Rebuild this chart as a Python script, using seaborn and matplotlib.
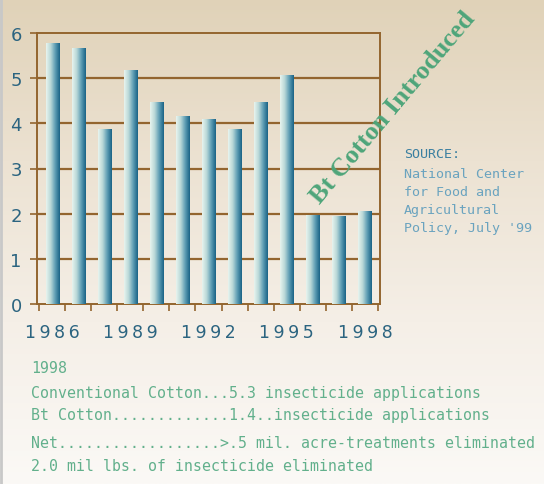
import numpy as np
import pandas as pd
import matplotlib
matplotlib.use('Agg')
import matplotlib.pyplot as plt
from matplotlib.colors import LinearSegmentedColormap
import seaborn as sns

# Dados (aplicações de inseticida por ano)
anos = [str(a) for a in range(1986, 1999)]
aplicacoes = [5.77, 5.66, 3.86, 5.17, 4.46, 4.15, 4.08, 3.86, 4.46, 5.06, 1.95, 1.94, 2.04]
anos_rotulados = ['1986', '1989', '1992', '1995', '1998']
fonte_linhas = ['National Center', 'for Food and', 'Agricultural', "Policy, July '99"]
notas = ['1998',
         'Conventional Cotton...5.3 insecticide applications',
         'Bt Cotton.............1.4..insecticide applications',
         'Net..................>.5 mil. acre-treatments eliminated',
         '2.0 mil lbs. of insecticide eliminated']

df = pd.DataFrame({'ano': anos, 'valor': aplicacoes})

sns.set_theme(style="white")
plt.rcParams['font.family'] = ['DejaVu Sans']

W, H = 544, 485
fig = plt.figure(figsize=(W / 100, H / 100), dpi=100)

# fundo em degradê
bg = fig.add_axes([0, 0, 1, 1], zorder=-5)
fundo = LinearSegmentedColormap.from_list('fundo', ['#e0d2b8', '#ece2d2', '#f5efe7', '#fbf9f6'])
bg.imshow(np.linspace(0, 1, 256).reshape(-1, 1), cmap=fundo, aspect='auto', extent=[0, 1, 0, 1])
bg.axvline(0.002, color='#c8c8c8', lw=2)
bg.set_axis_off()

marrom = '#93652f'
azul_txt = '#2b6480'

ax = fig.add_axes([37 / W, 1 - 305 / H, 343 / W, 271 / H])
ax.set_facecolor('none')
sns.barplot(data=df, x='ano', y='valor', color='#5a9ab5', width=0.5, ax=ax, zorder=3)

# degradê horizontal em cada barra
cm_barra = LinearSegmentedColormap.from_list('barra', ['#e8f4ee', '#b9d8d8', '#5e9db4', '#1a6386'])
grad = np.linspace(0, 1, 64).reshape(1, -1)
for p in ax.patches:
    x0, w, h = p.get_x(), p.get_width(), p.get_height()
    ax.imshow(grad, cmap=cm_barra, aspect='auto', extent=[x0, x0 + w, 0, h], zorder=3)
    p.set_visible(False)

ax.set_xlim(-0.58, 12.58)
ax.set_ylim(0, 6)
ax.set_xlabel('')
ax.set_ylabel('')

for y in range(1, 6):
    ax.axhline(y, color=marrom, lw=1.6, zorder=1)
for s in ax.spines.values():
    s.set_color(marrom)
    s.set_linewidth(1.4)

ax.set_yticks(range(0, 7))
ax.tick_params(axis='y', length=5, width=1.2, color=marrom, labelcolor=azul_txt,
               labelsize=13, pad=6, left=True)
ax.set_xticks(range(len(anos)))
ax.set_xticklabels(['\u2009'.join(a) if a in anos_rotulados else '' for a in anos])
ax.tick_params(axis='x', which='major', length=0, labelcolor=azul_txt, labelsize=12.5, pad=14)
ax.set_xticks(np.arange(-0.5, 13, 1), minor=True)
ax.tick_params(axis='x', which='minor', length=5, width=1.2, color=marrom, bottom=True)

fig.text(393 / W, 1 - 108 / H, 'Bt Cotton Introduced', rotation=50, ha='center', va='center',
         fontsize=19, fontweight='bold', color='#4ea57a', family='Liberation Serif')

mono = 'DejaVu Sans Mono'
fig.text(404 / W, 1 - 155 / H, 'SOURCE:', fontsize=9.6, color='#3a7fa0', family=mono, va='center')
for i, linha in enumerate(fonte_linhas):
    fig.text(404 / W, 1 - (174 + i * 18.3) / H, linha, fontsize=9.6, color='#6aa3bf',
             family=mono, va='center')

ys = [369, 394, 416, 444, 467]
for yy, linha in zip(ys, notas):
    fig.text(31 / W, 1 - yy / H, linha, fontsize=10.7, color='#62b08c', family=mono, va='center')

fig.savefig('out.png', dpi=100)
